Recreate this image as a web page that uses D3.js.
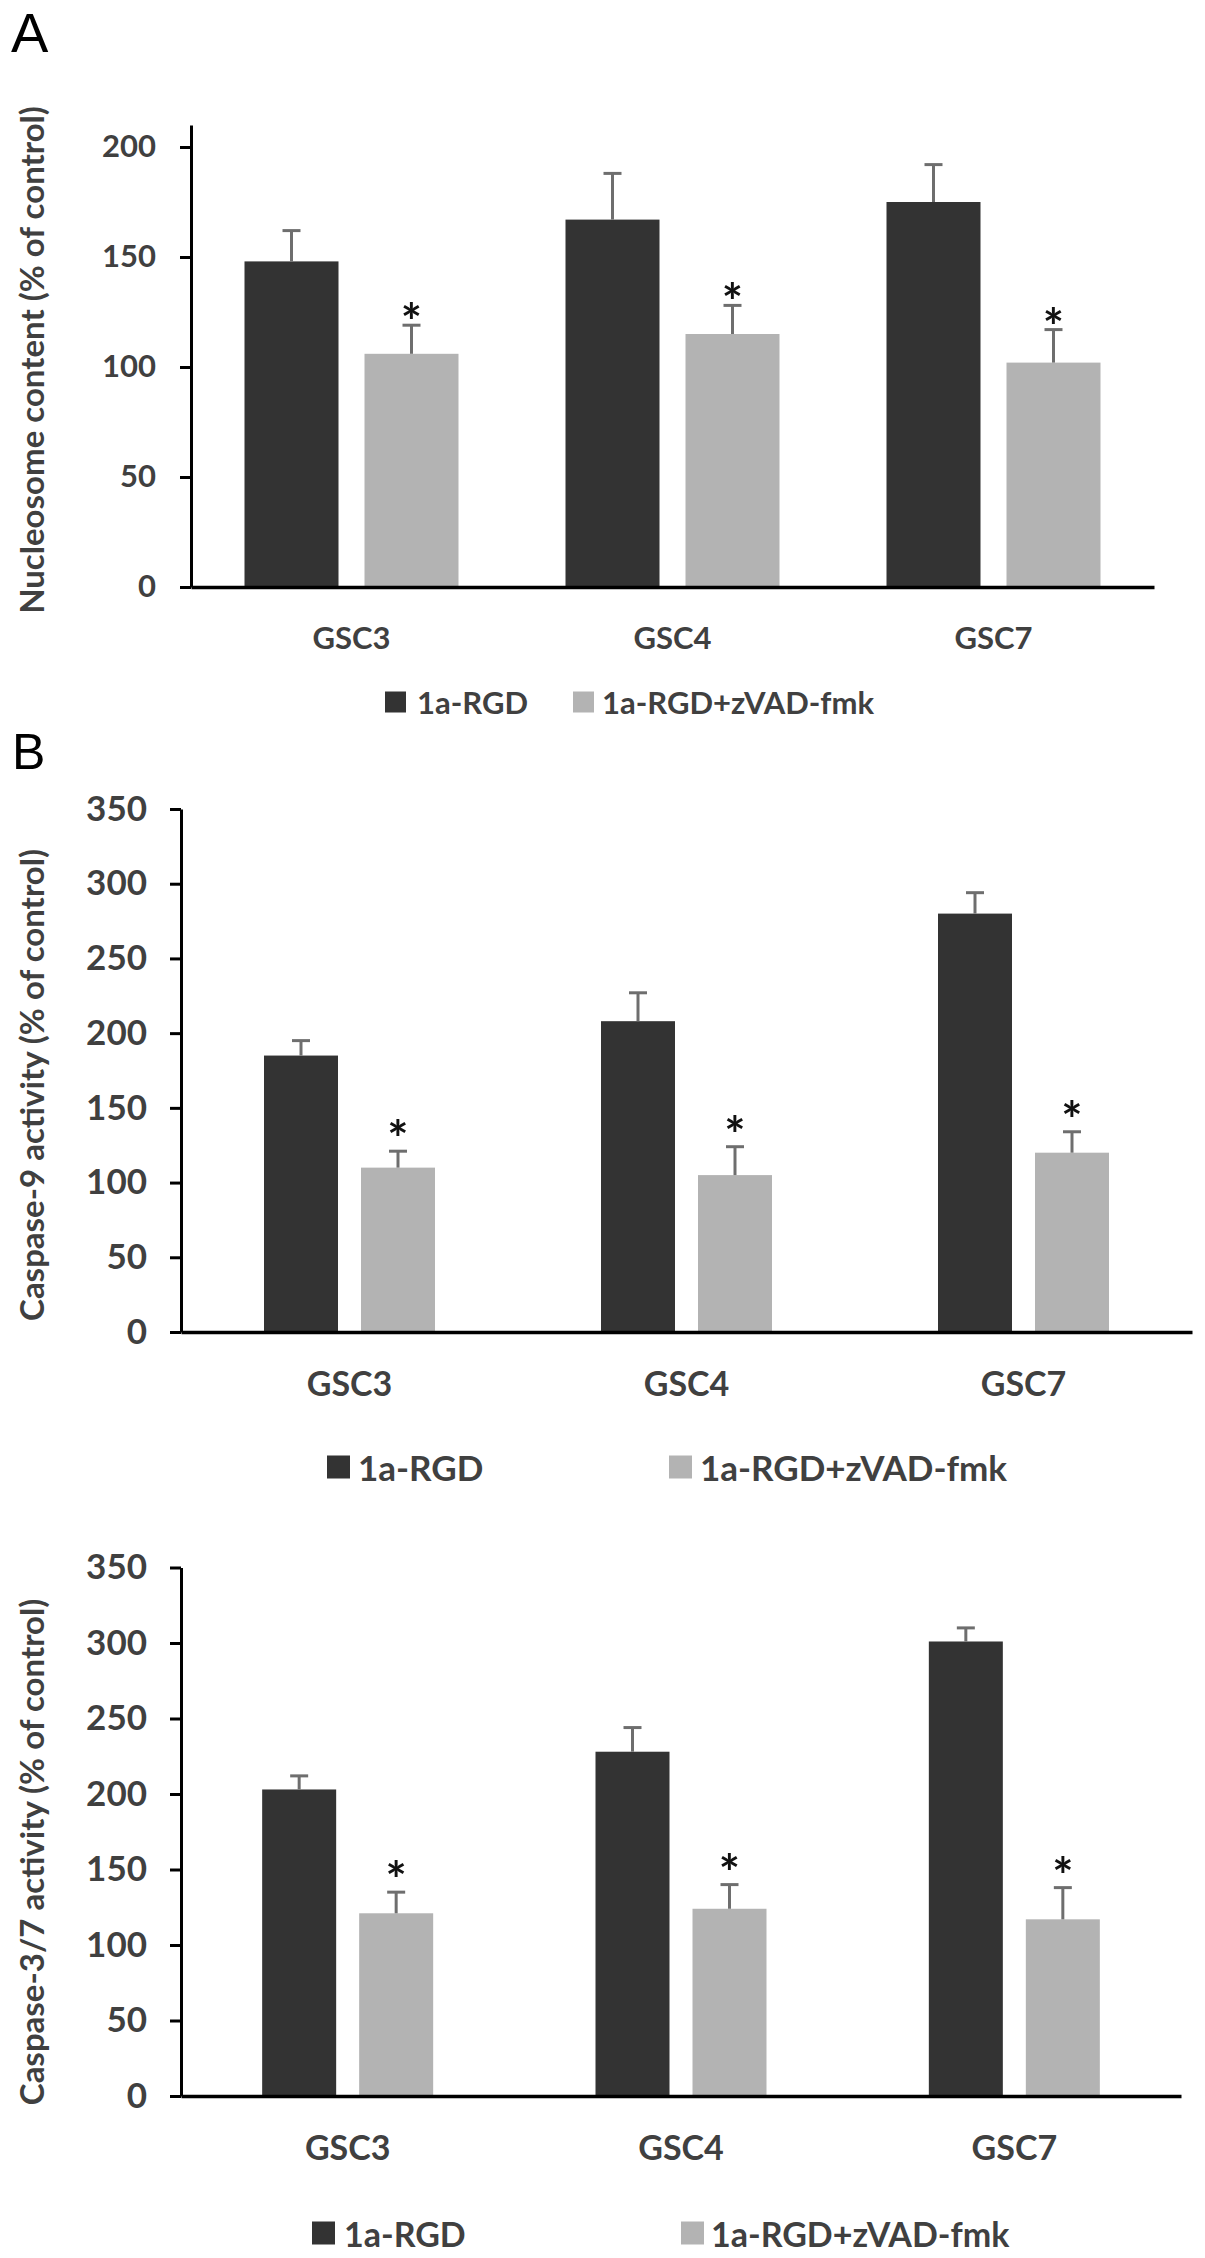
<!DOCTYPE html>
<html>
<head>
<meta charset="utf-8">
<script src="https://cdn.jsdelivr.net/npm/d3@7"></script>
<style>
  body { margin: 0; background: #fff; }
  svg text { font-family: Lato, "Open Sans", sans-serif; font-weight: bold; fill: #404040; }
</style>
</head>
<body>
<div id="chart"></div>
<script>
// cell lines and treatments
const groups = ['GSC3', 'GSC4', 'GSC7'];
const seriesNames = ['1a-RGD', '1a-RGD+zVAD-fmk'];

// A: nucleosome content (% of control)
const nucleosomeRGD = [148, 167, 175];
const nucleosomeRGDErr = [14, 21, 17];
const nucleosomeZvad = [106, 115, 102];
const nucleosomeZvadErr = [13, 13, 15];

// B: caspase-9 activity (% of control)
const casp9RGD = [185, 208, 280];
const casp9RGDErr = [10, 19, 14];
const casp9Zvad = [110, 105, 120];
const casp9ZvadErr = [11, 19, 14];

// B lower: caspase-3/7 activity (% of control)
const casp37RGD = [203, 228, 301];
const casp37RGDErr = [9, 16, 9];
const casp37Zvad = [121, 124, 117];
const casp37ZvadErr = [14, 16, 21];

// stars mark the zVAD-fmk bars
const starred = [true, true, true];

const ticksA = [0, 50, 100, 150, 200];
const ticksB = [0, 50, 100, 150, 200, 250, 300, 350];

const colors = ['#333333', '#b3b3b3'];

const svg = d3.select('#chart')
  .append('svg')
  .attr('width', 1205)
  .attr('height', 2258);

function drawPanel(p) {
  const g = svg.append('g');

  const y = d3.scaleLinear().domain([0, p.max]).range([p.y0, p.yTop]);
  const x = d3.scaleBand().domain(groups).range([p.axisX, p.right]);

  // y axis
  const yAxis = g.append('g')
    .attr('transform', `translate(${p.axisX},0)`)
    .call(d3.axisLeft(y).tickValues(p.ticks).tickSize(11).tickSizeOuter(0).tickPadding(p.tickPad));
  yAxis.select('.domain').attr('stroke', '#000').attr('stroke-width', 3);
  yAxis.selectAll('.tick line').attr('stroke', '#000').attr('stroke-width', 3);
  yAxis.selectAll('.tick text')
    .style('font-size', p.tickFont + 'px')
    .style('font-family', 'Lato, sans-serif')
    .style('font-weight', 'bold')
    .attr('fill', '#404040');

  // bars
  const rows = groups.map((name, i) => ({
    name,
    vals: [p.a[i], p.b[i]],
    errs: [p.aErr[i], p.bErr[i]],
    star: starred[i]
  }));

  const grp = g.selectAll('.grp')
    .data(rows)
    .enter()
    .append('g')
    .attr('transform', d => `translate(${x(d.name) + x.bandwidth() / 2},0)`);

  [0, 1].forEach(s => {
    const cx = s === 0 ? -p.offset : p.offset;
    grp.append('rect')
      .attr('x', cx - p.barW / 2)
      .attr('width', p.barW)
      .attr('y', d => y(d.vals[s]))
      .attr('height', d => p.y0 - y(d.vals[s]))
      .attr('fill', colors[s]);

    grp.append('line')
      .attr('x1', cx).attr('x2', cx)
      .attr('y1', d => y(d.vals[s]))
      .attr('y2', d => y(d.vals[s] + d.errs[s]))
      .attr('stroke', '#6e6e6e')
      .attr('stroke-width', 3);

    grp.append('line')
      .attr('x1', cx - 9).attr('x2', cx + 9)
      .attr('y1', d => y(d.vals[s] + d.errs[s]))
      .attr('y2', d => y(d.vals[s] + d.errs[s]))
      .attr('stroke', '#6e6e6e')
      .attr('stroke-width', 3);
  });

  // significance stars
  grp.filter(d => d.star)
    .append('text')
    .attr('x', p.offset)
    .attr('y', d => y(d.vals[1] + d.errs[1]) - p.starGap)
    .attr('text-anchor', 'middle')
    .style('font-size', '50px')
    .style('fill', '#111')
    .text('*');

  // x axis
  const xAxis = g.append('g')
    .attr('transform', `translate(0,${p.y0})`)
    .call(d3.axisBottom(x).tickSize(0).tickSizeOuter(0).tickPadding(p.catPad));
  xAxis.select('.domain').attr('stroke', '#000').attr('stroke-width', 3.5);
  xAxis.selectAll('.tick text')
    .style('font-size', p.catFont + 'px')
    .style('font-family', 'Lato, sans-serif')
    .style('font-weight', 'bold')
    .attr('fill', '#404040');

  // y title
  g.append('text')
    .attr('transform', `translate(${p.titleX},${p.titleY}) rotate(-90)`)
    .attr('text-anchor', 'middle')
    .attr('dominant-baseline', 'central')
    .style('font-size', '33px')
    .text(p.title);

  // legend
  const leg = g.append('g');
  seriesNames.forEach((name, s) => {
    leg.append('rect')
      .attr('x', p.legSq[s])
      .attr('y', p.legY - p.sq / 2)
      .attr('width', p.sq)
      .attr('height', p.sq)
      .attr('fill', colors[s]);
    leg.append('text')
      .attr('x', p.legText[s])
      .attr('y', p.legY)
      .attr('dominant-baseline', 'central')
      .style('font-size', p.legFont + 'px')
      .text(name);
  });
}

drawPanel({
  a: nucleosomeRGD, aErr: nucleosomeRGDErr, b: nucleosomeZvad, bErr: nucleosomeZvadErr,
  max: 210, ticks: ticksA, y0: 587, yTop: 125, axisX: 191, right: 1154,
  barW: 94, offset: 60, tickFont: 31, tickPad: 24, catFont: 31, catPad: 40,
  starGap: -15, title: 'Nucleosome content (% of control)', titleX: 31, titleY: 360,
  legY: 702, legSq: [385, 573], legText: [417, 602], sq: 21, legFont: 31
});

drawPanel({
  a: casp9RGD, aErr: casp9RGDErr, b: casp9Zvad, bErr: casp9ZvadErr,
  max: 350, ticks: ticksB, y0: 1332, yTop: 809, axisX: 181, right: 1192,
  barW: 74, offset: 48.5, tickFont: 35, tickPad: 23, catFont: 34, catPad: 40,
  starGap: -6, title: 'Caspase-9 activity (% of control)', titleX: 31, titleY: 1085,
  legY: 1467, legSq: [327, 669], legText: [358, 700], sq: 23, legFont: 35
});

drawPanel({
  a: casp37RGD, aErr: casp37RGDErr, b: casp37Zvad, bErr: casp37ZvadErr,
  max: 350, ticks: ticksB, y0: 2096, yTop: 1567.5, axisX: 181, right: 1181,
  barW: 74, offset: 48.5, tickFont: 35, tickPad: 23, catFont: 34, catPad: 40,
  starGap: -6, title: 'Caspase-3/7 activity (% of control)', titleX: 31, titleY: 1852,
  legY: 2233, legSq: [312, 681], legText: [344, 711], sq: 23, legFont: 34
});

// panel letters
svg.append('text')
  .attr('x', 11).attr('y', 52)
  .style('font-family', '"Liberation Sans", Arial, sans-serif')
  .style('font-weight', 'normal')
  .style('font-size', '56px')
  .style('fill', '#000')
  .text('A');

svg.append('text')
  .attr('x', 12).attr('y', 769)
  .style('font-family', '"Liberation Sans", Arial, sans-serif')
  .style('font-weight', 'normal')
  .style('font-size', '50px')
  .style('fill', '#000')
  .text('B');
</script>
</body>
</html>
